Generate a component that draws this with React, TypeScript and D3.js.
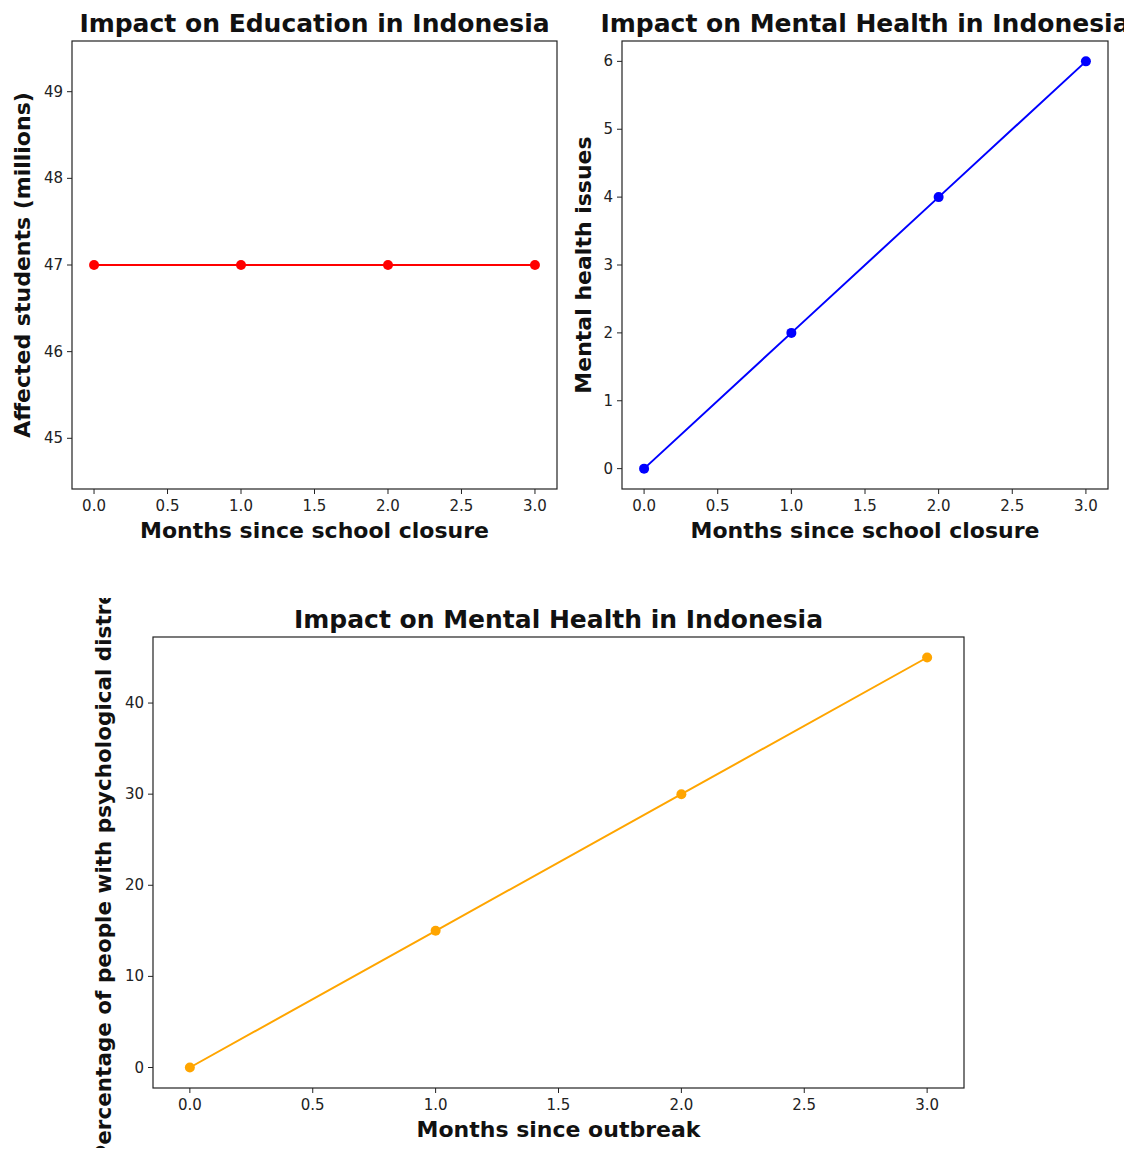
import React from "react";
import * as d3 from "d3";

const months = [0, 1, 2, 3];
const affectedStudents = [47, 47, 47, 47];
const mentalHealthIssues = [0, 2, 4, 6];
const distressPct = [0, 15, 30, 45];

const xTicks = [0, 0.5, 1, 1.5, 2, 2.5, 3];
const eduYTicks = [45, 46, 47, 48, 49];
const mhYTicks = [0, 1, 2, 3, 4, 5, 6];
const distressYTicks = [0, 10, 20, 30, 40];

const FONT = "DejaVu Sans, Verdana, sans-serif";

type PanelProps = {
  left: number; right: number; top: number; bottom: number;
  xDomain: [number, number]; yDomain: [number, number];
  xs: number[]; ys: number[]; color: string;
  yTicks: number[]; title: string; xLabel: string; yLabel: string;
  yLabelX: number; yLabelSize?: number; yLabelClip?: [number, number]; id: string;
};

function Panel(p: PanelProps) {
  const x = d3.scaleLinear().domain(p.xDomain).range([p.left, p.right]);
  const y = d3.scaleLinear().domain(p.yDomain).range([p.bottom, p.top]);
  const line = d3.line<number>().x((_, i) => x(p.xs[i])).y((d) => y(d));
  const cx = (p.left + p.right) / 2;
  const cy = (p.top + p.bottom) / 2;
  return (
    <g>
      {p.yLabelClip && (
        <defs>
          <clipPath id={p.id + "-clip"}>
            <rect x={0} y={p.yLabelClip[0]} width={400} height={p.yLabelClip[1] - p.yLabelClip[0]} />
          </clipPath>
        </defs>
      )}
      <path d={line(p.ys) || ""} fill="none" stroke={p.color} strokeWidth={2} />
      {p.ys.map((v, i) => (
        <circle key={i} cx={x(p.xs[i])} cy={y(v)} r={5} fill={p.color} />
      ))}
      <rect x={p.left} y={p.top} width={p.right - p.left} height={p.bottom - p.top} fill="none" stroke="#222" strokeWidth={1.2} />
      {xTicks.map((t) => (
        <g key={"x" + t}>
          <line x1={x(t)} x2={x(t)} y1={p.bottom} y2={p.bottom + 5} stroke="#222" strokeWidth={1} />
          <text x={x(t)} y={p.bottom + 22} textAnchor="middle" fontSize={15} fill="#222" fontFamily={FONT}>
            {t.toFixed(1)}
          </text>
        </g>
      ))}
      {p.yTicks.map((t) => (
        <g key={"y" + t}>
          <line x1={p.left - 5} x2={p.left} y1={y(t)} y2={y(t)} stroke="#222" strokeWidth={1} />
          <text x={p.left - 9} y={y(t) + 5} textAnchor="end" fontSize={15} fill="#222" fontFamily={FONT}>
            {t}
          </text>
        </g>
      ))}
      <text x={cx} y={p.top - 9} textAnchor="middle" fontSize={25} fontWeight="bold" fill="#111" fontFamily={FONT}>
        {p.title}
      </text>
      <text x={cx} y={p.bottom + 49} textAnchor="middle" fontSize={22} fontWeight="bold" fill="#111" fontFamily={FONT}>
        {p.xLabel}
      </text>
      <g clipPath={p.yLabelClip ? `url(#${p.id}-clip)` : undefined}>
        <text
          transform={`translate(${p.yLabelX},${cy}) rotate(-90)`}
          textAnchor="middle"
          fontSize={p.yLabelSize ?? 22}
          fontWeight="bold"
          fill="#111"
          fontFamily={FONT}
        >
          {p.yLabel}
        </text>
      </g>
    </g>
  );
}

export default function App() {
  return (
    <svg width={1132} height={1156} style={{ display: "block", margin: -8 }} viewBox="0 0 1132 1156">
      <rect width={1132} height={1156} fill="#fff" />
      <Panel
        id="edu"
        left={72} right={557} top={41} bottom={489}
        xDomain={[-0.15, 3.15]} yDomain={[44.415, 49.585]}
        xs={months} ys={affectedStudents} color="#ff0000"
        yTicks={eduYTicks}
        title="Impact on Education in Indonesia"
        xLabel="Months since school closure"
        yLabel="Affected students (millions)"
        yLabelX={30}
      />
      <Panel
        id="mh"
        left={622} right={1108} top={41} bottom={489}
        xDomain={[-0.15, 3.15]} yDomain={[-0.3, 6.3]}
        xs={months} ys={mentalHealthIssues} color="#0000ff"
        yTicks={mhYTicks}
        title="Impact on Mental Health in Indonesia"
        xLabel="Months since school closure"
        yLabel="Mental health issues"
        yLabelX={591}
      />
      <Panel
        id="dist"
        left={153} right={964} top={637} bottom={1088}
        xDomain={[-0.15, 3.15]} yDomain={[-2.25, 47.25]}
        xs={months} ys={distressPct} color="#ffa500"
        yTicks={distressYTicks}
        title="Impact on Mental Health in Indonesia"
        xLabel="Months since outbreak"
        yLabel="Percentage of people with psychological distress"
        yLabelX={111}
        yLabelSize={21.5}
        yLabelClip={[598, 1156]}
      />
    </svg>
  );
}
